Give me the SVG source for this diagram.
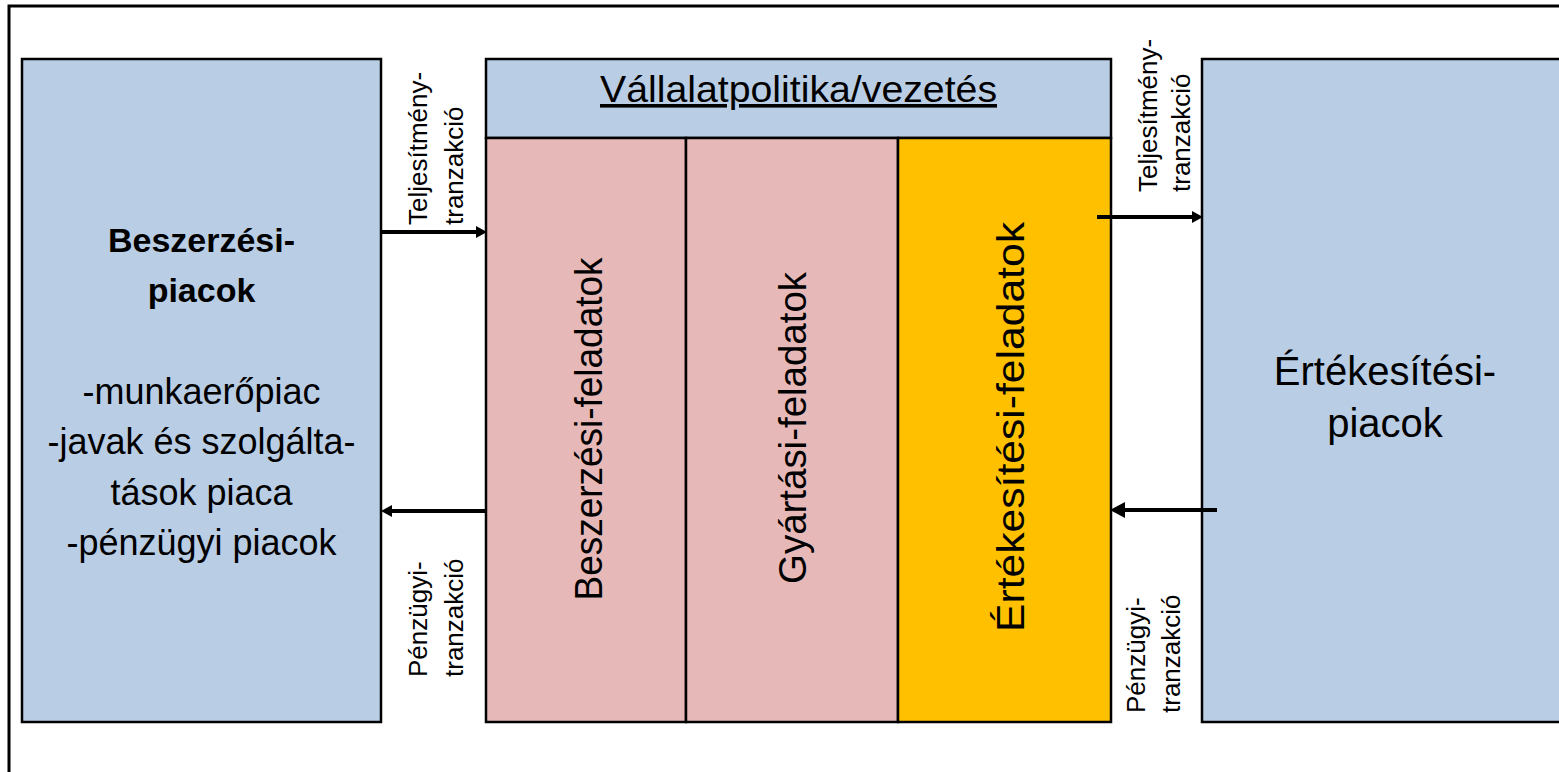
<svg xmlns="http://www.w3.org/2000/svg" width="1559" height="772" viewBox="0 0 1559 772">
<style>
.box{stroke:#000;stroke-width:2.5}
.blue{fill:#B9CDE5}
.pink{fill:#E6B9B8}
.orange{fill:#FFC000}
.t{font-family:"Liberation Sans",Arial,sans-serif;fill:#000}
.big{font-size:36px;text-anchor:middle}
.col{font-size:38px;text-anchor:middle}
.small{font-size:26px}
.conn{stroke:#000;stroke-width:4;fill:none}
</style>
<defs>
<marker id="ah" markerUnits="userSpaceOnUse" markerWidth="12" markerHeight="12" refX="4" refY="6" orient="auto">
<path d="M0,0 L11,6 L0,12 z" fill="#000"/>
</marker>
<marker id="ahL" markerUnits="userSpaceOnUse" markerWidth="16" markerHeight="17" refX="6" refY="8" orient="auto">
<path d="M0,0 L15,8 L0,16 z" fill="#000"/>
</marker>
</defs>
<rect width="1559" height="772" fill="#fff"/>
<rect x="9" y="6" width="1600" height="800" fill="none" stroke="#000" stroke-width="3"/>

<g id="beszerzesi-piacok">
<rect class="box blue" x="22" y="59" width="359" height="663"/>
<text class="t" font-size="34" font-weight="bold" text-anchor="middle" x="201.5" y="252">Beszerzési-</text>
<text class="t" font-size="34" font-weight="bold" text-anchor="middle" x="201.5" y="302">piacok</text>
<text class="t big" x="201.5" y="404">-munkaerőpiac</text>
<text class="t big" x="201.5" y="454">-javak és szolgálta-</text>
<text class="t big" x="201.5" y="505">tások piaca</text>
<text class="t big" x="201.5" y="555">-pénzügyi piacok</text>
</g>

<g id="vallalatpolitika">
<rect class="box blue" x="486" y="59" width="625" height="79"/>
<text class="t big" x="798.5" y="102" text-decoration="underline" textLength="397" lengthAdjust="spacingAndGlyphs">Vállalatpolitika/vezetés</text>
</g>

<g id="beszerzesi-feladatok">
<rect class="box pink" x="486" y="138" width="200" height="584"/>
<text class="t col" transform="translate(602,429) rotate(-90)" textLength="343" lengthAdjust="spacingAndGlyphs">Beszerzési-feladatok</text>
</g>

<g id="gyartasi-feladatok">
<rect class="box pink" x="686" y="138" width="212" height="584"/>
<text class="t col" transform="translate(806,428) rotate(-90)" textLength="312" lengthAdjust="spacingAndGlyphs">Gyártási-feladatok</text>
</g>

<g id="ertekesitesi-feladatok">
<rect class="box orange" x="898" y="138" width="213" height="584"/>
<text class="t col" font-size="42" transform="translate(1024,427) rotate(-90)" textLength="410" lengthAdjust="spacingAndGlyphs">Értékesítési-feladatok</text>
</g>

<g id="ertekesitesi-piacok">
<rect class="box blue" x="1202" y="59" width="400" height="663"/>
<text class="t" font-size="40" text-anchor="middle" x="1385" y="385">Értékesítési-</text>
<text class="t" font-size="40" text-anchor="middle" x="1385" y="437">piacok</text>
</g>

<g id="connectors">
<line class="conn" x1="381" y1="232" x2="480" y2="232" marker-end="url(#ah)"/>
<line class="conn" x1="486" y1="511" x2="388" y2="511" marker-end="url(#ah)"/>
<line class="conn" x1="1097" y1="217" x2="1196" y2="217" marker-end="url(#ah)"/>
<line class="conn" x1="1217" y1="510" x2="1119" y2="510" marker-end="url(#ahL)"/>
</g>

<g id="labels">
<text class="t small" transform="translate(427,225) rotate(-90)"><tspan x="0" y="0">Teljesítmény-</tspan><tspan x="0" y="36">tranzakció</tspan></text>
<text class="t small" transform="translate(427,677) rotate(-90)"><tspan x="0" y="0">Pénzügyi-</tspan><tspan x="0" y="36">tranzakció</tspan></text>
<text class="t small" transform="translate(1157,192) rotate(-90)"><tspan x="0" y="0">Teljesítmény-</tspan><tspan x="0" y="33">tranzakció</tspan></text>
<text class="t small" transform="translate(1145,713) rotate(-90)"><tspan x="0" y="0">Pénzügyi-</tspan><tspan x="0" y="35">tranzakció</tspan></text>
</g>
</svg>
